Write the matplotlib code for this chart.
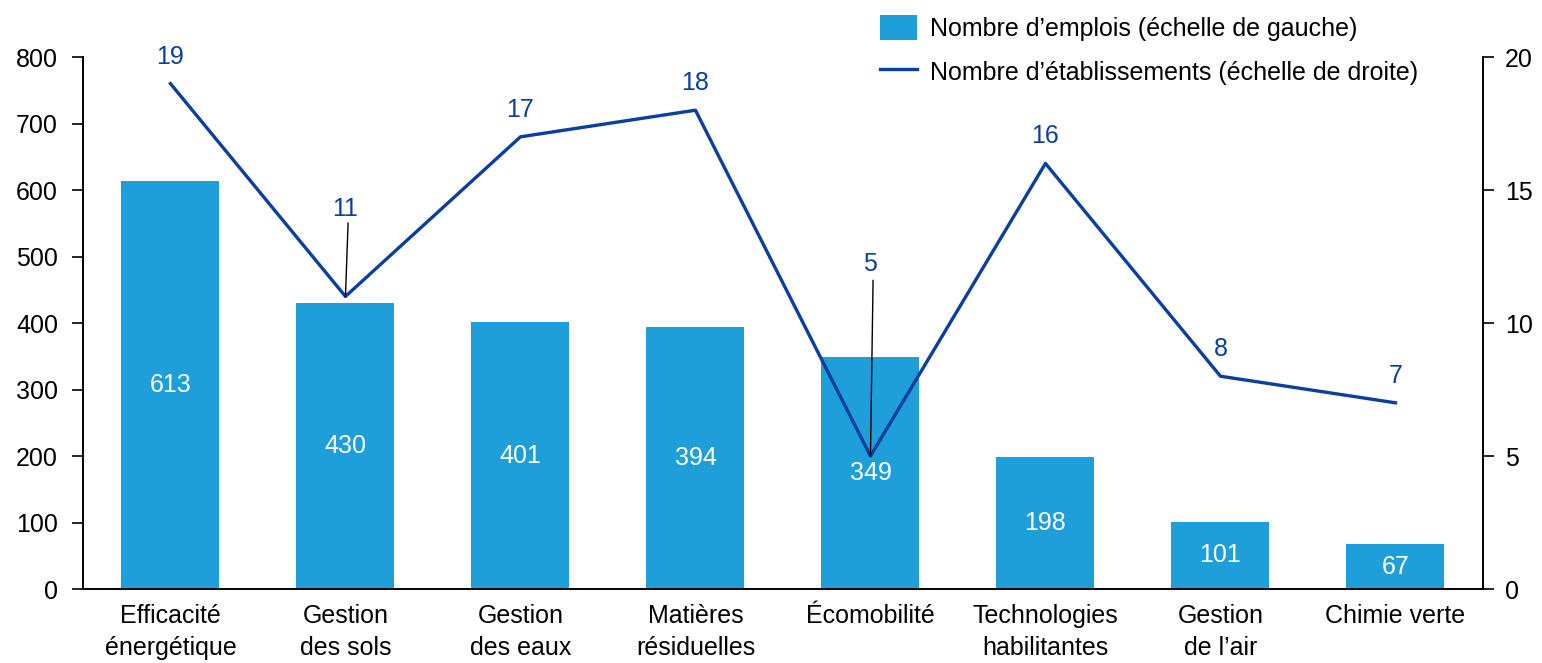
import matplotlib.pyplot as plt
import numpy as np

plt.rcParams["font.family"] = ["Liberation Sans", "DejaVu Sans"]
plt.rcParams["font.size"] = 18

categories = ["Efficacité\nénergétique", "Gestion\ndes sols", "Gestion\ndes eaux",
              "Matières\nrésiduelles", "Écomobilité", "Technologies\nhabilitantes",
              "Gestion\nde l\u2019air", "Chimie verte"]
emplois = [613, 430, 401, 394, 349, 198, 101, 67]
etablissements = [19, 11, 17, 18, 5, 16, 8, 7]

bar_color = "#1F9FD9"
line_color = "#0A3EA0"

fig = plt.figure(figsize=(15.42, 6.63), dpi=100)
ax = fig.add_axes([0.0538, 0.1116, 0.9079, 0.8024])
ax2 = ax.twinx()

x = np.arange(len(categories))
ax.bar(x, emplois, width=0.56, color=bar_color, zorder=2,
       label="Nombre d\u2019emplois (échelle de gauche)")
for xi, v in zip(x, emplois):
    ax.text(xi, v / 2, str(v), ha="center", va="center", color="white")

ax2.plot(x, etablissements, color=line_color, lw=2.4, zorder=3,
         label="Nombre d\u2019établissements (échelle de droite)")

# labels lifted with a leader line: index -> (label y, line top y) in right-axis units
leaders = {1: (14.3, 13.75), 4: (12.2, 11.6)}
for xi, v in zip(x, etablissements):
    if xi in leaders:
        ly, top = leaders[xi]
        ax2.text(xi, ly, str(v), ha="center", va="center", color=line_color)
        ax2.plot([xi, xi + 0.015], [v, top], color="black", lw=1, zorder=4)
    else:
        ax2.annotate(str(v), xy=(xi, v), xytext=(0, 19.5), textcoords="offset points",
                     ha="center", va="center", color=line_color)

ax.set_xlim(-0.5, 7.5)
ax.set_ylim(0, 800)
ax.set_yticks(range(0, 801, 100))
ax2.set_ylim(0, 20)
ax2.set_yticks(range(0, 21, 5))
ax.set_xticks(x)
ax.set_xticklabels(categories, linespacing=1.38)

for a in (ax, ax2):
    a.spines["top"].set_visible(False)
    for s in ("left", "right", "bottom"):
        a.spines[s].set_linewidth(1.2)
ax.tick_params(axis="y", length=8, width=1.2, direction="out", pad=10)
ax2.tick_params(axis="y", length=8, width=1.2, direction="out", pad=8)
ax.tick_params(axis="x", length=0, pad=11)

h1, l1 = ax.get_legend_handles_labels()
h2, l2 = ax2.get_legend_handles_labels()
fig.legend(h1 + h2, l1 + l2, loc="upper left", bbox_to_anchor=(0.556, 1.012),
           frameon=False, handlelength=1.5, handleheight=1.2,
           labelspacing=0.72, handletextpad=0.5)

fig.savefig("out.png", dpi=100)
